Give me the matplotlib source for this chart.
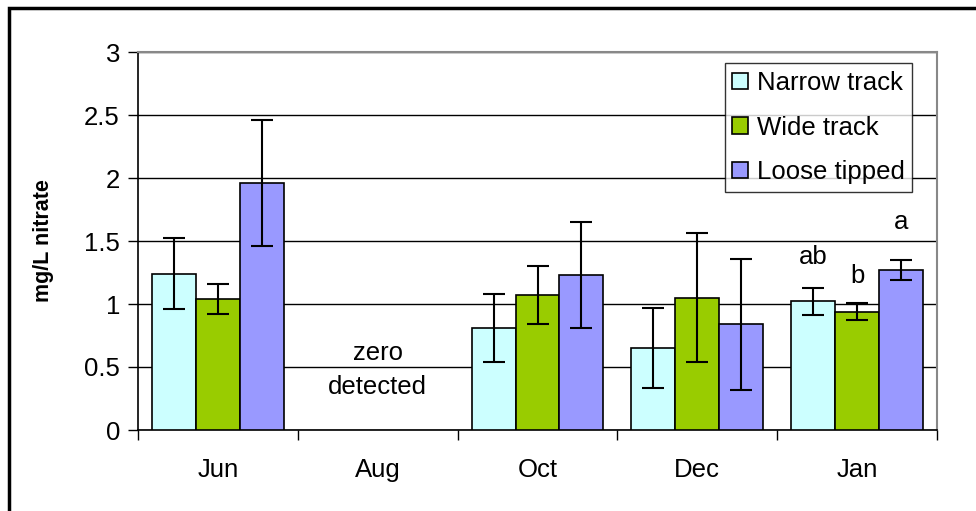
import numpy as np
import matplotlib.pyplot as plt
from matplotlib.patches import Rectangle

plt.rcParams['font.family'] = ['Liberation Sans', 'DejaVu Sans']

months = ["Jun", "Aug", "Oct", "Dec", "Jan"]
series = ["Narrow track", "Wide track", "Loose tipped"]
narrow = [1.24, 0.0, 0.81, 0.65, 1.02]
wide = [1.04, 0.0, 1.07, 1.05, 0.94]
loose = [1.96, 0.0, 1.23, 0.84, 1.27]
narrow_err = [0.28, 0.0, 0.27, 0.32, 0.11]
wide_err = [0.12, 0.0, 0.23, 0.51, 0.07]
loose_err = [0.50, 0.0, 0.42, 0.52, 0.08]
colors = ["#CCFFFF", "#99CC00", "#9999FF"]
jan_letters = ["ab", "b", "a"]
jan_letter_y = [1.37, 1.22, 1.65]

fig = plt.figure(figsize=(9.76, 5.11), dpi=100)
ax = fig.add_axes([138 / 976, 1 - 430 / 511, 799 / 976, 378 / 511])

# outer frame (only left/top edges visible in the original crop)
fig.patches.append(Rectangle((8.5 / 976, -0.1), 1.2, (511 - 8.5) / 511 + 0.1,
                             transform=fig.transFigure, fill=False,
                             edgecolor="black", linewidth=2.5, zorder=0))

fs = 18.5
x = np.arange(len(months))
w = 0.275
vals = [narrow, wide, loose]
errs = [narrow_err, wide_err, loose_err]
for i in range(3):
    pos = x + (i - 1) * w
    v = np.array(vals[i])
    ec = ["black" if h > 0 else "none" for h in v]
    ax.bar(pos, v, w, color=colors[i], edgecolor=ec, linewidth=1.2,
           label=series[i], zorder=3)
    e = np.array(errs[i])
    m = e > 0
    ax.errorbar(pos[m], v[m], yerr=e[m], fmt="none",
                ecolor="black", elinewidth=1.5, capsize=8, capthick=1.5, zorder=4)
    ax.text(x[4] + (i - 1) * w, jan_letter_y[i], jan_letters[i],
            ha="center", va="center", fontsize=fs)

ax.text(x[1], 0.61, "zero", ha="center", va="center", fontsize=fs)
ax.text(x[1], 0.34, "detected", ha="center", va="center", fontsize=fs)

ax.set_xlim(-0.5, 4.5)
ax.set_ylim(0, 3)
ax.set_yticks(np.arange(0, 3.01, 0.5))
ax.set_yticklabels(["0", "0.5", "1", "1.5", "2", "2.5", "3"])
ax.set_xticks(x)
ax.set_xticklabels(months)
ax.set_xticks(np.arange(-0.5, 4.6, 1), minor=True)
ax.tick_params(axis="x", which="major", length=0, pad=20, labelsize=fs)
ax.tick_params(axis="x", which="minor", length=7, direction="out", width=1)
ax.tick_params(axis="y", length=7, width=1, direction="out", labelsize=fs, pad=6)
ax.yaxis.grid(True, color="black", linewidth=1)
ax.set_axisbelow(True)
for s in ["top", "right"]:
    ax.spines[s].set_color("#888888")
    ax.spines[s].set_linewidth(1.5)
for s in ["left", "bottom"]:
    ax.spines[s].set_linewidth(1.2)
ax.set_ylabel("mg/L nitrate", fontsize=15.5, fontweight="bold", labelpad=22)

leg = ax.legend(loc="upper right", bbox_to_anchor=(0.969, 0.97), fontsize=fs,
                frameon=True, fancybox=False, edgecolor="black", handlelength=0.6,
                handleheight=0.6, handletextpad=0.35, borderpad=0.3, labelspacing=0.8,
                borderaxespad=0)
leg.get_frame().set_linewidth(1)
leg.set_zorder(5)

fig.savefig("out.png", dpi=100, facecolor="white")
